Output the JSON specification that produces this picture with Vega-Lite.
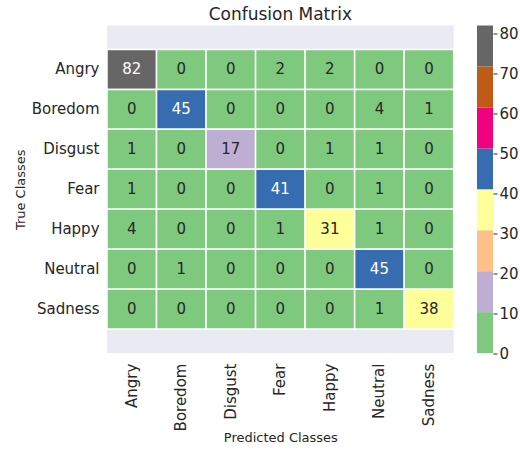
{
  "$schema": "https://vega.github.io/schema/vega-lite/v6.json",
  "padding": {"left": 14, "top": 6.5, "right": 0, "bottom": 0},
  "spacing": 22,
  "config": {
    "font": "DejaVu Sans",
    "view": {"stroke": null},
    "axis": {"labelColor": "#262626", "titleColor": "#262626", "domain": false, "grid": false, "labelFont": "DejaVu Sans", "titleFont": "DejaVu Sans", "titleFontWeight": "normal"},
    "title": {"color": "#262626", "font": "DejaVu Sans", "fontWeight": "normal"}
  },
  "datasets": {
    "cm": [
      {"t": "Angry", "p": "Angry", "v": 82}, {"t": "Angry", "p": "Boredom", "v": 0}, {"t": "Angry", "p": "Disgust", "v": 0}, {"t": "Angry", "p": "Fear", "v": 2}, {"t": "Angry", "p": "Happy", "v": 2}, {"t": "Angry", "p": "Neutral", "v": 0}, {"t": "Angry", "p": "Sadness", "v": 0},
      {"t": "Boredom", "p": "Angry", "v": 0}, {"t": "Boredom", "p": "Boredom", "v": 45}, {"t": "Boredom", "p": "Disgust", "v": 0}, {"t": "Boredom", "p": "Fear", "v": 0}, {"t": "Boredom", "p": "Happy", "v": 0}, {"t": "Boredom", "p": "Neutral", "v": 4}, {"t": "Boredom", "p": "Sadness", "v": 1},
      {"t": "Disgust", "p": "Angry", "v": 1}, {"t": "Disgust", "p": "Boredom", "v": 0}, {"t": "Disgust", "p": "Disgust", "v": 17}, {"t": "Disgust", "p": "Fear", "v": 0}, {"t": "Disgust", "p": "Happy", "v": 1}, {"t": "Disgust", "p": "Neutral", "v": 1}, {"t": "Disgust", "p": "Sadness", "v": 0},
      {"t": "Fear", "p": "Angry", "v": 1}, {"t": "Fear", "p": "Boredom", "v": 0}, {"t": "Fear", "p": "Disgust", "v": 0}, {"t": "Fear", "p": "Fear", "v": 41}, {"t": "Fear", "p": "Happy", "v": 0}, {"t": "Fear", "p": "Neutral", "v": 1}, {"t": "Fear", "p": "Sadness", "v": 0},
      {"t": "Happy", "p": "Angry", "v": 4}, {"t": "Happy", "p": "Boredom", "v": 0}, {"t": "Happy", "p": "Disgust", "v": 0}, {"t": "Happy", "p": "Fear", "v": 1}, {"t": "Happy", "p": "Happy", "v": 31}, {"t": "Happy", "p": "Neutral", "v": 1}, {"t": "Happy", "p": "Sadness", "v": 0},
      {"t": "Neutral", "p": "Angry", "v": 0}, {"t": "Neutral", "p": "Boredom", "v": 1}, {"t": "Neutral", "p": "Disgust", "v": 0}, {"t": "Neutral", "p": "Fear", "v": 0}, {"t": "Neutral", "p": "Happy", "v": 0}, {"t": "Neutral", "p": "Neutral", "v": 45}, {"t": "Neutral", "p": "Sadness", "v": 0},
      {"t": "Sadness", "p": "Angry", "v": 0}, {"t": "Sadness", "p": "Boredom", "v": 0}, {"t": "Sadness", "p": "Disgust", "v": 0}, {"t": "Sadness", "p": "Fear", "v": 0}, {"t": "Sadness", "p": "Happy", "v": 0}, {"t": "Sadness", "p": "Neutral", "v": 1}, {"t": "Sadness", "p": "Sadness", "v": 38}
    ],
    "bands": [
      {"lo": 0, "hi": 10.25, "k": "b1"},
      {"lo": 10.25, "hi": 20.5, "k": "b2"},
      {"lo": 20.5, "hi": 30.75, "k": "b3"},
      {"lo": 30.75, "hi": 41, "k": "b4"},
      {"lo": 41, "hi": 51.25, "k": "b5"},
      {"lo": 51.25, "hi": 61.5, "k": "b6"},
      {"lo": 61.5, "hi": 71.75, "k": "b7"},
      {"lo": 71.75, "hi": 82, "k": "b8"}
    ]
  },
  "hconcat": [
    {
      "data": {"name": "cm"},
      "width": 346.7,
      "height": 327.6,
      "view": {"fill": "#eaeaf2", "stroke": null},
      "title": {"text": "Confusion Matrix", "fontSize": 17, "frame": "group", "anchor": "middle", "offset": 1},
      "encoding": {
        "x": {"field": "p", "type": "nominal",
              "scale": {"domain": ["Angry", "Boredom", "Disgust", "Fear", "Happy", "Neutral", "Sadness"], "paddingInner": 0, "paddingOuter": 0},
              "axis": {"title": "Predicted Classes", "labelAngle": -90, "labelAlign": "right", "labelBaseline": "middle", "labelFontSize": 15, "titleFontSize": 13, "ticks": false, "labelPadding": 10, "titlePadding": 1}},
        "y": {"field": "t", "type": "nominal",
              "scale": {"domain": ["Angry", "Boredom", "Disgust", "Fear", "Happy", "Neutral", "Sadness"], "paddingInner": 0, "paddingOuter": 0.6},
              "axis": {"title": "True Classes", "labelFontSize": 15, "titleFontSize": 13, "ticks": false, "labelPadding": 8, "titlePadding": 4}}
      },
      "layer": [
        {
          "mark": {"type": "rect", "stroke": "white", "strokeWidth": 1.5},
          "encoding": {
            "color": {"field": "v", "type": "quantitative",
                      "scale": {"type": "quantize", "domain": [0, 82], "nice": false, "zero": false,
                                "range": ["#7fc97f", "#beaed4", "#fdc086", "#ffff99", "#386cb0", "#f0027f", "#bf5b17", "#666666"]},
                      "legend": null}
          }
        },
        {
          "mark": {"type": "text", "fontSize": 15, "font": "DejaVu Sans"},
          "encoding": {
            "text": {"field": "v", "type": "quantitative"},
            "color": {"condition": {"test": "datum.v > 40", "value": "#ffffff"}, "value": "#262626"}
          }
        }
      ]
    },
    {
      "data": {"name": "bands"},
      "width": 16,
      "height": 327.6,
      "mark": {"type": "rect"},
      "encoding": {
        "y": {"field": "lo", "type": "quantitative",
              "scale": {"domain": [0, 82], "nice": false, "zero": false},
              "axis": {"orient": "right", "title": null, "values": [0, 10, 20, 30, 40, 50, 60, 70, 80], "labelFontSize": 15, "tickSize": 4, "tickColor": "#262626", "tickWidth": 1, "labelPadding": 2}},
        "y2": {"field": "hi"},
        "color": {"field": "k", "type": "nominal",
                  "scale": {"domain": ["b1", "b2", "b3", "b4", "b5", "b6", "b7", "b8"],
                            "range": ["#7fc97f", "#beaed4", "#fdc086", "#ffff99", "#386cb0", "#f0027f", "#bf5b17", "#666666"]},
                  "legend": null}
      }
    }
  ]
}
